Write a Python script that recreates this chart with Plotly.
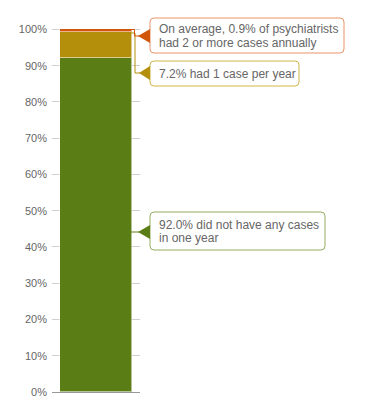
import plotly.graph_objects as go

categories = ["Psychiatrists"]
segment_names = ["No cases", "1 case per year", "2 or more cases"]
segment_values = [92.0, 7.2, 0.9]
segment_colors = ["#5b7d15", "#b48f0b", "#d2560a"]
border_colors = ["#93ad62", "#d2b64c", "#e9946a"]
callout_lines = [
    ["92.0% did not have any cases", "in one year"],
    ["7.2% had 1 case per year"],
    ["On average, 0.9% of psychiatrists", "had 2 or more cases annually"],
]
tick_values = [0, 10, 20, 30, 40, 50, 60, 70, 80, 90, 100]
tick_labels = [f"{v}%" for v in tick_values]

# page body has an 8px margin; size the figure so it fits the 380x400 window
OFF = 8
W, H = 380 - OFF, 400 - OFF
ML, MR, MT, MB = 52 - OFF, 240, 28 - OFF, 8
PW, PH = W - ML - MR, H - MT - MB


def px(x):
    return (x - OFF - ML) / PW


def py(y):
    return (H - MB - (y - OFF)) / PH


fig = go.Figure()
for name, val, col in zip(segment_names, segment_values, segment_colors):
    fig.add_trace(go.Bar(
        x=[0], y=[val], name=name, width=0.807,
        marker=dict(color=col, line=dict(color="rgba(255,255,255,0.55)", width=1)),
        hoverinfo="skip",
    ))

shapes = []
annotations = []


def rounded_box(x0, y0, x1, y1, r, color):
    X0, X1 = px(x0), px(x1)
    Y0, Y1 = py(y0), py(y1)
    rx, ry = r / PW, r / PH
    path = (f"M{X0+rx},{Y0} L{X1-rx},{Y0} Q{X1},{Y0} {X1},{Y0-ry} "
            f"L{X1},{Y1+ry} Q{X1},{Y1} {X1-rx},{Y1} L{X0+rx},{Y1} "
            f"Q{X0},{Y1} {X0},{Y1+ry} L{X0},{Y0-ry} Q{X0},{Y0} {X0+rx},{Y0} Z")
    return dict(type="path", xref="paper", yref="paper", path=path,
                line=dict(color=color, width=1), fillcolor="white", layer="above")


def triangle(tipx, tipy, basex, half, color):
    path = (f"M{px(tipx)},{py(tipy)} L{px(basex)},{py(tipy-half)} "
            f"L{px(basex)},{py(tipy+half)} Z")
    return dict(type="path", xref="paper", yref="paper", path=path,
                line=dict(color=color, width=0), fillcolor=color, layer="above")


def polyline(points, color):
    d = "M" + " L".join(f"{px(a)},{py(b)}" for a, b in points)
    return dict(type="path", xref="paper", yref="paper", path=d,
                line=dict(color=color, width=1), layer="above")


# callout layout (window pixel positions)
callouts = [
    dict(box=(150, 212, 325, 250), line_y=[224.5, 238.5], tip=(138, 232), half=7,
         conn=[(131, 232), (139, 232)]),
    dict(box=(150, 61, 299, 86), line_y=[73.5], tip=(139, 73), half=7,
         conn=[(131, 33), (135, 33), (135, 73), (140, 73)]),
    dict(box=(150, 18, 344, 53), line_y=[29, 43], tip=(138, 36), half=7,
         conn=[(131, 29.5), (134.5, 29.5), (134.5, 36), (140, 36)]),
]

for c, lines, fillc, bcol in zip(callouts, callout_lines, segment_colors, border_colors):
    shapes.append(polyline(c["conn"], fillc))
    shapes.append(rounded_box(*c["box"], 4, bcol))
    shapes.append(triangle(c["tip"][0], c["tip"][1], 150, c["half"], fillc))
    for txt, ly in zip(lines, c["line_y"]):
        annotations.append(dict(
            xref="paper", yref="paper", x=px(157), y=py(ly),
            xanchor="left", yanchor="middle", align="left", showarrow=False,
            text=txt, font=dict(family="Liberation Sans, Arial, sans-serif", size=12, color="#666666"),
        ))

fig.update_layout(
    width=W, height=H,
    margin=dict(l=ML, r=MR, t=MT, b=MB, autoexpand=False),
    barmode="stack",
    showlegend=False,
    plot_bgcolor="white", paper_bgcolor="white",
    bargap=0,
    shapes=shapes,
    annotations=annotations,
    font=dict(family="Liberation Sans, Arial, sans-serif", color="#666666"),
    xaxis=dict(range=[-0.5, 0.5], showticklabels=False, showgrid=False, zeroline=False,
               showline=True, linecolor="#999999", linewidth=1, fixedrange=True),
    yaxis=dict(range=[0, 100.4], tickvals=tick_values, ticktext=tick_labels,
               showgrid=True, gridcolor="#d0d0d0", gridwidth=1, zeroline=False,
               tickfont=dict(size=11, color="#666666"), ticks="", ticklabelstandoff=4,
               fixedrange=True),
)

fig.write_html("out.html")
